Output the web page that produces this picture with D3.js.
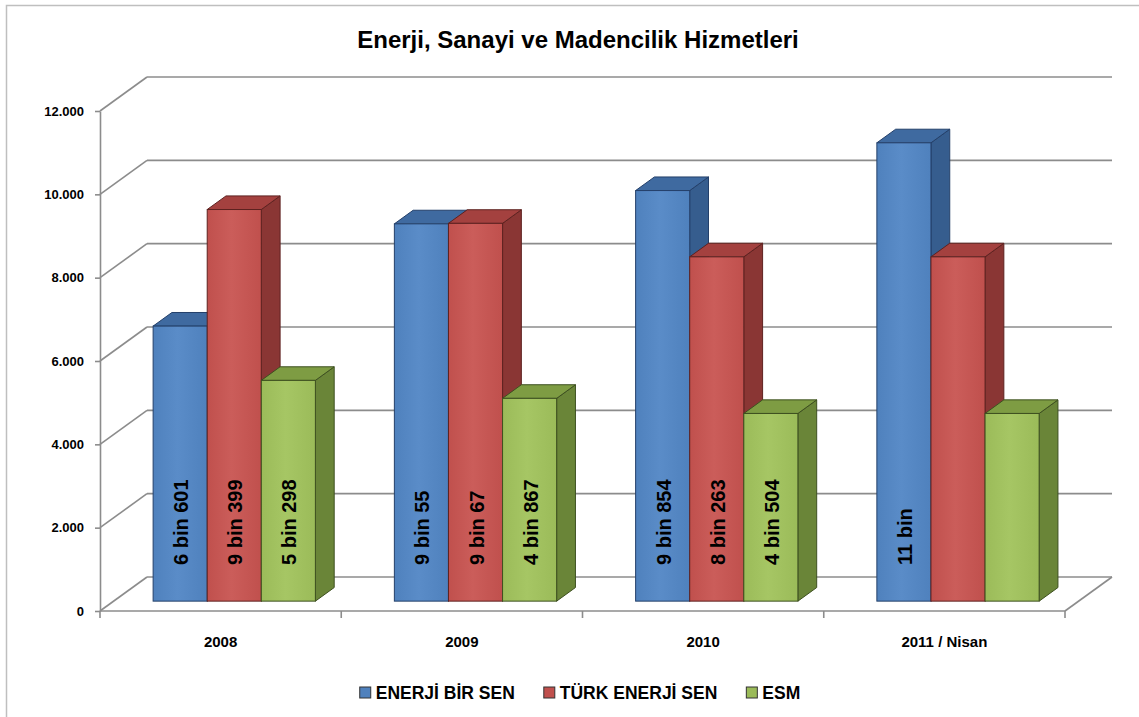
<!DOCTYPE html>
<html>
<head>
<meta charset="utf-8">
<script src="https://cdn.jsdelivr.net/npm/d3@7"></script>
<style>
  body { margin: 0; background: #fff; }
  text { font-family: "Liberation Sans", Arial, sans-serif; font-weight: bold; fill: #000; }
</style>
</head>
<body>
<svg id="chart" width="1139" height="717"></svg>
<script>
// data
const categories = ["2008", "2009", "2010", "2011 / Nisan"];
const seriesNames = ["ENERJİ BİR SEN", "TÜRK ENERJİ SEN", "ESM"];
const enerjiBirSen = [6601, 9055, 9854, 11000];
const turkEnerjiSen = [9399, 9067, 8263, 8263];
const esm = [5298, 4867, 4504, 4504];
const enerjiBirSenLabels = ["6 bin 601", "9 bin 55", "9 bin 854", "11 bin"];
const turkEnerjiSenLabels = ["9 bin 399", "9 bin 67", "8 bin 263", ""];
const esmLabels = ["5 bin 298", "4 bin 867", "4 bin 504", ""];
const yTicks = [0, 2000, 4000, 6000, 8000, 10000, 12000];
const yTickLabels = ["0", "2.000", "4.000", "6.000", "8.000", "10.000", "12.000"];

const svg = d3.select("#chart");

// colours: front, top, side
const colors = [
  { front: "#4f81bd", light: "#5a8cc8", top: "#3f6aa0", side: "#365d8e", stroke: "#24406a" },
  { front: "#c0504d", light: "#cb5d5a", top: "#a4413f", side: "#8a3634", stroke: "#5e2220" },
  { front: "#9bbb59", light: "#a6c664", top: "#7e9c43", side: "#6a8538", stroke: "#3e5020" }
];

// chart border
svg.append("rect")
  .attr("x", 6.5).attr("y", 5.5).attr("width", 1140).attr("height", 730)
  .attr("fill", "none").attr("stroke", "#bfbfbf").attr("stroke-width", 1.5);

// title
svg.append("text")
  .attr("x", 578).attr("y", 48)
  .attr("text-anchor", "middle")
  .style("font-size", "24px")
  .text("Enerji, Sanayi ve Madencilik Hizmetleri");

// 3d geometry
const DX = 47, DY = -34;       // full depth offset of the floor
const f0 = 0.29, f1 = 0.69;    // depth fraction where bars start / end

const x0 = d3.scaleBand().domain(categories).range([100, 1065]).padding(0);
const x1 = d3.scaleBand().domain(seriesNames).range([0, x0.bandwidth()]).paddingInner(0).paddingOuter(0.73);
const y = d3.scaleLinear().domain([0, 12000]).range([611, 111]);

const grid = svg.append("g");
const gridColor = "#8c8c8c";

// back wall gridlines + side wall diagonals
yTicks.forEach(t => {
  grid.append("line")
    .attr("x1", 100 + DX).attr("x2", 1065 + DX)
    .attr("y1", y(t) + DY).attr("y2", y(t) + DY)
    .attr("stroke", gridColor).attr("stroke-width", 1.6);
  grid.append("line")
    .attr("x1", 100).attr("x2", 100 + DX)
    .attr("y1", y(t)).attr("y2", y(t) + DY)
    .attr("stroke", gridColor).attr("stroke-width", 1.6);
});

// floor: front edge and right diagonal
grid.append("line")
  .attr("x1", 100).attr("x2", 1065).attr("y1", y(0)).attr("y2", y(0))
  .attr("stroke", gridColor).attr("stroke-width", 1.6);
grid.append("line")
  .attr("x1", 1065).attr("x2", 1065 + DX).attr("y1", y(0)).attr("y2", y(0) + DY)
  .attr("stroke", gridColor).attr("stroke-width", 1.6);

// y axis
const yAxis = svg.append("g")
  .attr("transform", "translate(100,0)")
  .call(d3.axisLeft(y).tickValues(yTicks).tickFormat((d, i) => yTickLabels[i]).tickSize(5).tickSizeOuter(0).tickPadding(11));
yAxis.select(".domain").attr("stroke", gridColor).attr("stroke-width", 1.6);
yAxis.selectAll(".tick line").attr("stroke", gridColor).attr("stroke-width", 1.6);
yAxis.selectAll(".tick text").style("font-size", "13px").attr("fill", "#000");

// x axis labels + boundary ticks
const xAxis = svg.append("g")
  .attr("transform", `translate(0,${y(0)})`)
  .call(d3.axisBottom(x0).tickSize(0).tickPadding(25));
xAxis.select(".domain").remove();
xAxis.selectAll(".tick text").style("font-size", "15px").attr("fill", "#000");
const bounds = categories.map(c => x0(c)).concat([x0(categories[categories.length - 1]) + x0.bandwidth()]);
svg.selectAll("line.xtick")
  .data(bounds)
  .join("line")
  .attr("class", "xtick")
  .attr("x1", d => d).attr("x2", d => d)
  .attr("y1", y(0)).attr("y2", y(0) + 7)
  .attr("stroke", gridColor).attr("stroke-width", 1.6);

// gradients for front faces
const defs = svg.append("defs");
colors.forEach((c, i) => {
  const g = defs.append("linearGradient").attr("id", "grad" + i)
    .attr("x1", "0%").attr("x2", "100%").attr("y1", "0%").attr("y2", "0%");
  g.append("stop").attr("offset", "0%").attr("stop-color", c.front);
  g.append("stop").attr("offset", "45%").attr("stop-color", c.light);
  g.append("stop").attr("offset", "100%").attr("stop-color", c.front);
});

// bars
const seriesValues = [enerjiBirSen, turkEnerjiSen, esm];
const seriesLabels = [enerjiBirSenLabels, turkEnerjiSenLabels, esmLabels];
const bars = [];
categories.forEach((c, ci) => {
  seriesNames.forEach((s, si) => {
    bars.push({ cat: c, series: si, value: seriesValues[si][ci], label: seriesLabels[si][ci] });
  });
});

const ox0 = DX * f0, oy0 = DY * f0;
const ox1 = DX * f1, oy1 = DY * f1;
const bw = x1.bandwidth();
const pt = (a, b) => a + "," + b;

const barG = svg.append("g");
bars.forEach(d => {
  const xl = x0(d.cat) + x1(seriesNames[d.series]) + ox0;
  const xr = xl + bw;
  const yt = y(d.value) + oy0;
  const yb = y(0) + oy0;
  const sx = ox1 - ox0, sy = oy1 - oy0;
  const c = colors[d.series];
  const g = barG.append("g");
  // side face
  g.append("polygon")
    .attr("points", [pt(xr, yt), pt(xr + sx, yt + sy), pt(xr + sx, yb + sy), pt(xr, yb)].join(" "))
    .attr("fill", c.side).attr("stroke", c.stroke).attr("stroke-width", 1);
  // top face
  g.append("polygon")
    .attr("points", [pt(xl, yt), pt(xl + sx, yt + sy), pt(xr + sx, yt + sy), pt(xr, yt)].join(" "))
    .attr("fill", c.top).attr("stroke", c.stroke).attr("stroke-width", 1);
  // front face
  g.append("rect")
    .attr("x", xl).attr("y", yt).attr("width", bw).attr("height", yb - yt)
    .attr("fill", `url(#grad${d.series})`).attr("stroke", c.stroke).attr("stroke-width", 1);
  // value label
  if (d.label) {
    const cx = xl + bw / 2 + 1;
    g.append("text")
      .attr("transform", `translate(${cx},565) rotate(-90)`)
      .attr("dy", "0.35em")
      .attr("text-anchor", "start")
      .style("font-size", "20px")
      .text(d.label);
  }
});

// legend
const legend = svg.append("g").attr("transform", "translate(0,693)");
const items = legend.selectAll("g")
  .data(seriesNames)
  .join("g");
items.append("rect")
  .attr("width", 11).attr("height", 11).attr("y", -6)
  .attr("fill", (d, i) => colors[i].front)
  .attr("stroke", "#333").attr("stroke-width", 1);
items.append("text")
  .attr("x", 16).attr("dy", "0.35em")
  .style("font-size", "17.5px")
  .text(d => d);
let cursor = 0;
const offsets = [];
items.each(function () {
  offsets.push(cursor);
  cursor += 16 + this.querySelector("text").getComputedTextLength() + 29;
});
const total = cursor - 29;
const startX = 580 - total / 2;
items.attr("transform", (d, i) => `translate(${startX + offsets[i]},0)`);
</script>
</body>
</html>
